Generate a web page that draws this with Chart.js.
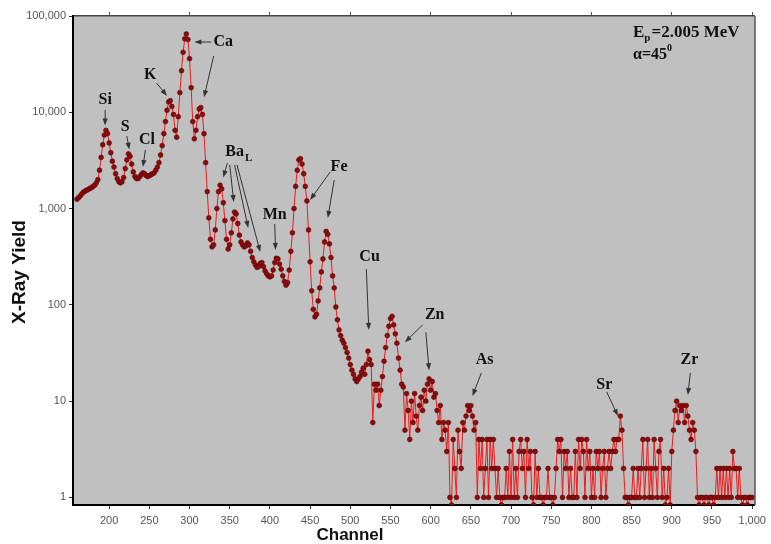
<!DOCTYPE html>
<html>
<head>
<meta charset="utf-8">
<script src="https://cdn.jsdelivr.net/npm/chart.js@4/dist/chart.umd.min.js"></script>
<style>
  html, body { margin: 0; padding: 0; background: #fff; }
  #wrap { width: 771px; height: 544px; }
</style>
</head>
<body>
<div id="wrap"><canvas id="spectrum" width="771" height="544"></canvas></div>
<script>
// PIXE spectrum, one value every 2 channels starting at channel 160
const firstChannel = 160;
const channelStep = 2;

// channels 160 - 328 (Si, S, Cl, K, Ca)
const countsLight = [
  1250, 1300, 1350, 1420, 1480, 1520, 1550, 1580, 1620, 1650,
  1700, 1750, 1850, 2000, 2500, 3400, 4600, 5800, 6500, 6000,
  4800, 3800, 3100, 2700, 2300, 2050, 1900, 1850, 1900, 2100,
  2600, 3200, 3700, 3500, 2900, 2400, 2150, 2050, 2050, 2150,
  2250, 2350, 2300, 2200, 2150, 2200, 2250, 2300, 2350, 2500,
  2700, 3000, 3600, 4500, 6000, 8000, 10500, 12800, 13200, 11500,
  9500, 6500, 5500, 9000, 16000, 27000, 42000, 58000, 65000, 57000,
  36000, 18000, 8000, 5300, 6500, 9000, 10800, 11200, 9500, 6000,
  3000, 1500, 800, 480, 400
];

// channels 330 - 560 (Ba L, Mn, Fe, Cu, Zn)
const countsMid = [
  420, 600, 1000, 1500, 1750, 1600, 1150, 750, 480, 380,
  420, 560, 780, 920, 880, 700, 530, 450, 420, 400,
  410, 440, 420, 360, 310, 280, 260, 245, 250, 270,
  275, 250, 225, 210, 200, 195, 200, 230, 275, 305,
  300, 265, 235, 200, 175, 160, 170, 230, 360, 560,
  1000, 1700, 2500, 3200, 3300, 2900, 2300, 1700, 1200, 600,
  280, 140, 90, 75, 80, 110, 150, 220, 300, 450,
  580, 540, 430, 310, 200, 150, 95, 70, 55, 48,
  43, 40, 36, 32, 28, 24, 21, 19, 17, 16,
  17, 18, 20, 22, 19, 24, 33, 27, 24, 6,
  15, 13, 15, 9, 13, 18, 26, 36, 48, 60,
  72, 76, 62, 50, 40, 28
];

// channels 562 - 1000 (Zn Kb, As, Sr, Zr and background)
const countsHeavy = [
  21, 15, 14, 5, 12, 8, 4, 10, 6, 12,
  7, 5, 9, 11, 8, 13, 10, 15, 17, 13,
  16, 11, 12, 8, 6, 9, 4, 6, 5, 3,
  6, 1, 0, 4, 2, 1, 5, 3, 2, 6,
  5, 7, 9, 8, 9, 7, 5, 6, 1, 4,
  2, 4, 1, 2, 4, 1, 4, 2, 4, 2,
  1, 2, 1, 0, 1, 1, 2, 1, 3, 1,
  4, 1, 2, 1, 3, 4, 2, 3, 1, 4,
  2, 3, 1, 0, 3, 1, 2, 1, 1, 0,
  1, 1, 2, 1, 1, 0, 1, 2, 4, 3,
  4, 1, 3, 2, 3, 1, 2, 1, 1, 3,
  1, 4, 2, 4, 3, 1, 4, 2, 3, 1,
  2, 1, 3, 2, 3, 1, 2, 3, 1, 2,
  3, 2, 3, 4, 3, 4, 4, 7, 5, 2,
  1, 1, 0, 1, 1, 2, 1, 1, 2, 1,
  2, 4, 1, 2, 4, 1, 2, 1, 4, 2,
  1, 3, 4, 1, 2, 0, 1, 2, 0, 3,
  5, 8, 10, 6, 9, 8, 9, 6, 9, 7,
  5, 4, 6, 5, 3, 1, 0, 1, 1, 0,
  1, 1, 0, 1, 1, 0, 1, 2, 1, 2,
  1, 2, 1, 2, 1, 2, 1, 3, 2, 2,
  1, 2, 1, 0, 1, 1, 0, 1, 1, 1
];

const xTicks = [200, 250, 300, 350, 400, 450, 500, 550, 600, 650, 700, 750, 800, 850, 900, 950, 1000];
const xTopTicks = [200, 300, 400, 500, 600, 700, 800, 900, 1000];
const yTicks = [1, 10, 100, 1000, 10000, 100000];
const xRange = [155, 1003.5];
const yRange = [0.835, 100000];

// element labels: text position and arrows in (channel, yield)
const peakLabels = [
  { text: 'Si', at: [195, 13400], arrows: [[[195, 10600], [195, 7300]]] },
  { text: 'S', at: [220, 7030], arrows: [[[222, 5670], [225, 4100]]] },
  { text: 'Cl', at: [247, 5150], arrows: [[[245, 4060], [242, 2700]]] },
  { text: 'K', at: [251, 24400], arrows: [[[259, 20100], [272, 14800]]] },
  { text: 'Ca', at: [342, 53700], arrows: [[[327, 53700], [306, 53700]], [[330, 38400], [318, 14300]]] },
  { text: 'Ba', sub: 'L', at: [356, 3870], arrows: [
      [[347, 2970], [342, 2100]], [[350, 2840], [355, 1170]],
      [[356, 2840], [373, 630]], [[359, 2840], [388, 354]] ] },
  { text: 'Mn', at: [406, 858], arrows: [[[406, 690], [407, 372]]] },
  { text: 'Fe', at: [486, 2700], arrows: [[[475, 2400], [450, 1230]], [[480, 1980], [472, 800]]] },
  { text: 'Cu', at: [524, 314], arrows: [[[520, 235], [523, 55]]] },
  { text: 'Zn', at: [605, 78.5], arrows: [[[590, 62], [568, 41]], [[594, 52], [598, 21]]] },
  { text: 'As', at: [667, 26.8], arrows: [[[663, 19.6], [652, 11.3]]] },
  { text: 'Sr', at: [816, 14.7], arrows: [[[819, 12.5], [833, 7.0]]] },
  { text: 'Zr', at: [922, 26.8], arrows: [[[923, 19.6], [920, 11.6]]] }
];

const counts = countsLight.concat(countsMid, countsHeavy);
// zero counts sit on the bottom of the log axis
const points = counts.map((c, i) => ({
  x: firstChannel + i * channelStep,
  y: c === 0 ? yRange[0] : c
}));

function drawArrow(ctx, x1, y1, x2, y2) {
  const a = Math.atan2(y2 - y1, x2 - x1);
  const len = 7, half = 2.6;
  ctx.beginPath();
  ctx.moveTo(x1, y1);
  ctx.lineTo(x2 - Math.cos(a) * 3, y2 - Math.sin(a) * 3);
  ctx.stroke();
  ctx.beginPath();
  ctx.moveTo(x2, y2);
  ctx.lineTo(x2 - len * Math.cos(a) + half * Math.sin(a), y2 - len * Math.sin(a) - half * Math.cos(a));
  ctx.lineTo(x2 - len * Math.cos(a) - half * Math.sin(a), y2 - len * Math.sin(a) + half * Math.cos(a));
  ctx.closePath();
  ctx.fill();
}

const frame = {
  id: 'frame',
  beforeDraw(chart) {
    const { ctx, chartArea: a } = chart;
    ctx.save();
    ctx.fillStyle = '#fff';
    ctx.fillRect(0, 0, chart.width, chart.height);
    ctx.fillStyle = '#c0c0c0';
    ctx.fillRect(a.left, a.top, a.right - a.left, a.bottom - a.top);
    ctx.restore();
  },
  afterDraw(chart) {
    const { ctx, chartArea: a, scales } = chart;
    ctx.save();
    ctx.strokeStyle = '#555';
    ctx.lineWidth = 1.5;
    ctx.beginPath();
    ctx.moveTo(a.right, a.top);
    ctx.lineTo(a.right, a.bottom);
    ctx.stroke();

    // element labels and arrows
    ctx.fillStyle = '#111';
    ctx.strokeStyle = '#333';
    ctx.lineWidth = 1;
    ctx.textAlign = 'center';
    ctx.textBaseline = 'middle';
    peakLabels.forEach(l => {
      const px = scales.x.getPixelForValue(l.at[0]);
      const py = scales.y.getPixelForValue(l.at[1]);
      ctx.font = 'bold 16px "Liberation Serif", serif';
      if (l.sub) {
        const w = ctx.measureText(l.text).width;
        ctx.fillText(l.text, px, py);
        ctx.font = 'bold 11px "Liberation Serif", serif';
        ctx.textAlign = 'left';
        ctx.fillText(l.sub, px + w / 2 + 1, py + 6);
        ctx.textAlign = 'center';
      } else {
        ctx.fillText(l.text, px, py);
      }
      ctx.fillStyle = '#333';
      l.arrows.forEach(ar => {
        drawArrow(ctx,
          scales.x.getPixelForValue(ar[0][0]), scales.y.getPixelForValue(ar[0][1]),
          scales.x.getPixelForValue(ar[1][0]), scales.y.getPixelForValue(ar[1][1]));
      });
      ctx.fillStyle = '#111';
    });

    // beam info, top right
    ctx.textAlign = 'left';
    ctx.textBaseline = 'alphabetic';
    let x = a.right - 122;
    ctx.font = 'bold 17px "Liberation Serif", serif';
    ctx.fillText('E', x, a.top + 21);
    x += ctx.measureText('E').width;
    ctx.font = 'bold 11px "Liberation Serif", serif';
    ctx.fillText('p', x, a.top + 25);
    x += ctx.measureText('p').width + 1;
    ctx.font = 'bold 17px "Liberation Serif", serif';
    ctx.fillText('=2.005 MeV', x, a.top + 21);
    x = a.right - 122;
    ctx.font = 'bold 16px "Liberation Serif", serif';
    ctx.fillText('\u03b1=45', x, a.top + 43);
    x += ctx.measureText('\u03b1=45').width;
    ctx.font = 'bold 10px "Liberation Serif", serif';
    ctx.fillText('0', x, a.top + 35);

    // axis titles
    ctx.fillStyle = '#111';
    ctx.textAlign = 'center';
    ctx.textBaseline = 'middle';
    ctx.font = 'bold 17px "Liberation Sans", Arial, sans-serif';
    ctx.fillText('Channel', 350, 535);
    ctx.translate(20, 272);
    ctx.rotate(-Math.PI / 2);
    ctx.font = 'bold 19px "Liberation Sans", Arial, sans-serif';
    ctx.fillText('X-Ray Yield', 0, 0);
    ctx.restore();
  }
};

const tickFont = { family: '"Liberation Sans", Arial, sans-serif', size: 11 };

new Chart(document.getElementById('spectrum'), {
  type: 'line',
  data: {
    datasets: [{
      data: points,
      borderColor: '#f01c1c',
      borderWidth: 1,
      pointRadius: 2.4,
      pointBackgroundColor: '#8e0b0b',
      pointBorderColor: '#5c0000',
      pointBorderWidth: 0.6,
      tension: 0
    }]
  },
  options: {
    responsive: false,
    animation: false,
    events: [],
    layout: { padding: { left: 0, right: 15, top: 0, bottom: 0 } },
    plugins: { legend: { display: false }, tooltip: { enabled: false } },
    scales: {
      x: {
        type: 'linear',
        position: 'bottom',
        min: xRange[0],
        max: xRange[1],
        afterBuildTicks: s => { s.ticks = xTicks.map(v => ({ value: v })); },
        afterFit: s => { s.height = 39; },
        ticks: {
          autoSkip: false, maxRotation: 0, padding: 5,
          color: '#555', font: tickFont,
          callback: v => Number(v).toLocaleString('en-US')
        },
        grid: { drawOnChartArea: false, tickLength: 4, color: '#333' },
        border: { color: '#000', width: 2 }
      },
      xTop: {
        type: 'linear',
        position: 'top',
        min: xRange[0],
        max: xRange[1],
        afterBuildTicks: s => { s.ticks = xTopTicks.map(v => ({ value: v })); },
        afterFit: s => { s.height = 16; },
        ticks: { display: false },
        grid: { drawOnChartArea: false, tickLength: 4, color: '#555' },
        border: { color: '#444', width: 1.5 }
      },
      y: {
        type: 'logarithmic',
        min: yRange[0],
        max: yRange[1],
        afterBuildTicks: s => { s.ticks = yTicks.map(v => ({ value: v })); },
        afterFit: s => { s.width = 73; },
        ticks: {
          padding: 3, color: '#555', font: tickFont,
          callback: v => Number(v).toLocaleString('en-US')
        },
        grid: { drawOnChartArea: false, tickLength: 4, color: '#333' },
        border: { color: '#000', width: 2 }
      }
    }
  },
  plugins: [frame]
});
</script>
</body>
</html>
